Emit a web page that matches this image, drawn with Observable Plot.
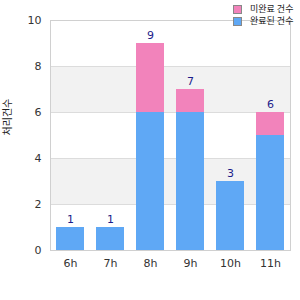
<!DOCTYPE html>
<html><head><meta charset="utf-8">
<script src="https://cdn.jsdelivr.net/npm/d3@7"></script>
<script src="https://cdn.jsdelivr.net/npm/@observablehq/plot@0.6"></script>
<style>
body{margin:0;background:#fff;font-family:"DejaVu Sans","Noto Sans CJK KR",sans-serif;}
#wrap{position:relative;width:300px;height:300px;}
.leg{position:absolute;left:233px;font-size:9px;line-height:12px;color:#222;display:flex;align-items:center;white-space:nowrap;}
.sw{width:7px;height:7px;border:1px solid #888;margin-right:8px;}
</style></head><body>
<div id="wrap"></div>
<script>
const hours = ["6h","7h","8h","9h","10h","11h"];
const doneCounts = [1,1,6,6,3,5];
const pendingCounts = [0,0,3,1,0,1];
const seriesNames = ["완료된 건수","미완료 건수"];
const yLabel = "처리건수";
const yTicks = [0,2,4,6,8,10];
const bandRanges = [[2,4],[6,8]];
const colors = {"완료된 건수":"#5fa8f5","미완료 건수":"#f283bb"};

const rows = [];
hours.forEach((h,i)=>{
  rows.push({hour:h, series:seriesNames[0], v:doneCounts[i]});
  rows.push({hour:h, series:seriesNames[1], v:pendingCounts[i]});
});
const totals = hours.map((h,i)=>({hour:h, total:doneCounts[i]+pendingCounts[i]}));
const bands = bandRanges.map(([a,b])=>({a,b}));

const chart = Plot.plot({
  width:300, height:300,
  marginLeft:50, marginRight:10, marginTop:20, marginBottom:50,
  style:{fontFamily:"DejaVu Sans, sans-serif", fontSize:"11px", color:"#333"},
  x:{domain:hours, paddingInner:0.3, paddingOuter:0.15, label:null, tickSize:0, tickPadding:9},
  y:{domain:[0,10], ticks:yTicks, label:null, tickSize:0, tickPadding:9},
  color:{domain:seriesNames, range:seriesNames.map(s=>colors[s])},
  marks:[
    Plot.rectY(bands,{x1:()=>hours[0], x2:()=>hours[hours.length-1], y1:"a", y2:"b", fill:"#f2f2f2", insetLeft:-1000, insetRight:-1000, clip:true}),
    Plot.gridY(yTicks,{stroke:"#dcdcdc", strokeOpacity:1}),
    Plot.frame({stroke:"#d0d0d0"}),
    Plot.barY(rows,{x:"hour", y:"v", fill:"series", order:seriesNames}),
    Plot.text(totals,{x:"hour", y:"total", text:d=>String(d.total), dy:-8, fill:"#1c1c8a", fontSize:11}),
    Plot.text([yLabel],{frameAnchor:"left", dx:-43, rotate:-90, text:d=>d, fill:"#222", fontSize:10, fontFamily:"Noto Sans CJK KR"})
  ]
});
const wrap = document.getElementById("wrap");
wrap.appendChild(chart);
[[seriesNames[1],3],[seriesNames[0],15]].forEach(([s,top])=>{
  const d=document.createElement("div");
  d.className="leg"; d.style.top=top+"px";
  d.innerHTML=`<span class="sw" style="background:${colors[s]}"></span><span style="font-family:'Noto Sans CJK KR'">${s}</span>`;
  wrap.appendChild(d);
});
</script>
</body></html>
